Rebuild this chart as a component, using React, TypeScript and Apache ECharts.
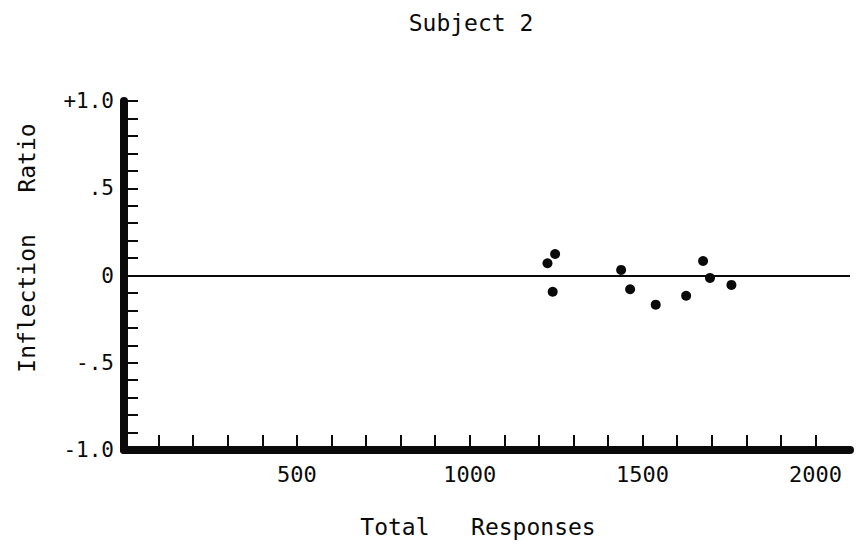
import React, { useEffect, useRef } from "react";
import * as echarts from "echarts";

// Data
const totalResponses = [1225, 1247, 1240, 1438, 1464, 1538, 1626, 1675, 1695, 1757];
const inflectionRatio = [0.07, 0.123, -0.093, 0.032, -0.079, -0.167, -0.116, 0.083, -0.014, -0.054];

const xTickValues = [100, 200, 300, 400, 500, 600, 700, 800, 900, 1000, 1100, 1200, 1300, 1400, 1500, 1600, 1700, 1800, 1900, 2000];
const xLabelValues = [500, 1000, 1500, 2000];
const xLabelTexts = ["500", "1000", "1500", "2000"];
const yTickValues = [-0.9, -0.8, -0.7, -0.6, -0.5, -0.4, -0.3, -0.2, -0.1, 0, 0.1, 0.2, 0.3, 0.4, 0.5, 0.6, 0.7, 0.8, 0.9, 1.0];
const yLabelValues = [-1, -0.5, 0, 0.5, 1];
const yLabelTexts = ["-1.0", "-.5", "0", ".5", "+1.0"];

const titleText = "Subject 2";
const xName = "Total   Responses";
const yName = "Inflection   Ratio";

const FONT = "DejaVu Sans Mono";
const INK = "#0a0a0a";

const pick = (values: number[], texts: string[]) => (v: number) => {
  const idx = values.findIndex((u) => Math.abs(u - v) < 1e-6);
  return idx >= 0 ? texts[idx] : "";
};

export default function App() {
  const ref = useRef<HTMLDivElement>(null);
  useEffect(() => {
    if (!ref.current) return;
    const chart = echarts.init(ref.current, undefined, { renderer: "svg" });
    const data = totalResponses.map((x, i) => [x, inflectionRatio[i]]);
    chart.setOption({
      animation: false,
      backgroundColor: "#ffffff",
      title: {
        text: titleText,
        left: 466,
        top: 6,
        textAlign: "center",
        textStyle: { fontFamily: FONT, fontSize: 23, fontWeight: "normal", color: INK },
      },
      grid: { left: 124, right: 13, top: 101, bottom: 98 },
      xAxis: {
        type: "value",
        min: 0,
        max: 2100,
        interval: 100,
        axisLine: { show: true, onZero: false, lineStyle: { color: INK, width: 8 } },
        axisTick: {
          show: true,
          inside: true,
          length: 15,
          customValues: xTickValues,
          lineStyle: { color: INK, width: 2 },
        },
        axisLabel: {
          show: true,
          customValues: xLabelValues,
          margin: 13,
          fontFamily: FONT,
          fontSize: 22,
          color: INK,
          formatter: pick(xLabelValues, xLabelTexts),
        },
        splitLine: { show: false },
      },
      yAxis: {
        type: "value",
        min: -1,
        max: 1,
        interval: 0.1,
        axisLine: { show: true, onZero: false, lineStyle: { color: INK, width: 8 } },
        axisTick: {
          show: true,
          inside: true,
          length: 14,
          customValues: yTickValues,
          lineStyle: { color: INK, width: 2 },
        },
        axisLabel: {
          show: true,
          customValues: yLabelValues,
          margin: 10,
          fontFamily: FONT,
          fontSize: 21,
          color: INK,
          formatter: pick(yLabelValues, yLabelTexts),
        },
        splitLine: { show: false },
      },
      graphic: [
        {
          type: "text",
          x: 478,
          y: 527,
          style: {
            text: xName,
            font: `23px "${FONT}"`,
            fill: INK,
            textAlign: "center",
            textVerticalAlign: "middle",
          },
        },
        {
          type: "text",
          x: 27,
          y: 248,
          rotation: Math.PI / 2,
          style: {
            text: yName,
            font: `23px "${FONT}"`,
            fill: INK,
            textAlign: "center",
            textVerticalAlign: "middle",
          },
        },
      ],
      series: [
        {
          type: "scatter",
          data,
          symbol: "circle",
          symbolSize: 10,
          itemStyle: { color: INK, opacity: 1 },
          markLine: {
            silent: true,
            symbol: "none",
            label: { show: false },
            lineStyle: { color: INK, width: 1.8, type: "solid", opacity: 1 },
            data: [{ yAxis: 0 }],
          },
        },
      ],
    });
    return () => chart.dispose();
  }, []);
  return (
    <div
      ref={ref}
      style={{ position: "fixed", left: 0, top: 0, width: 863, height: 548 }}
    />
  );
}
